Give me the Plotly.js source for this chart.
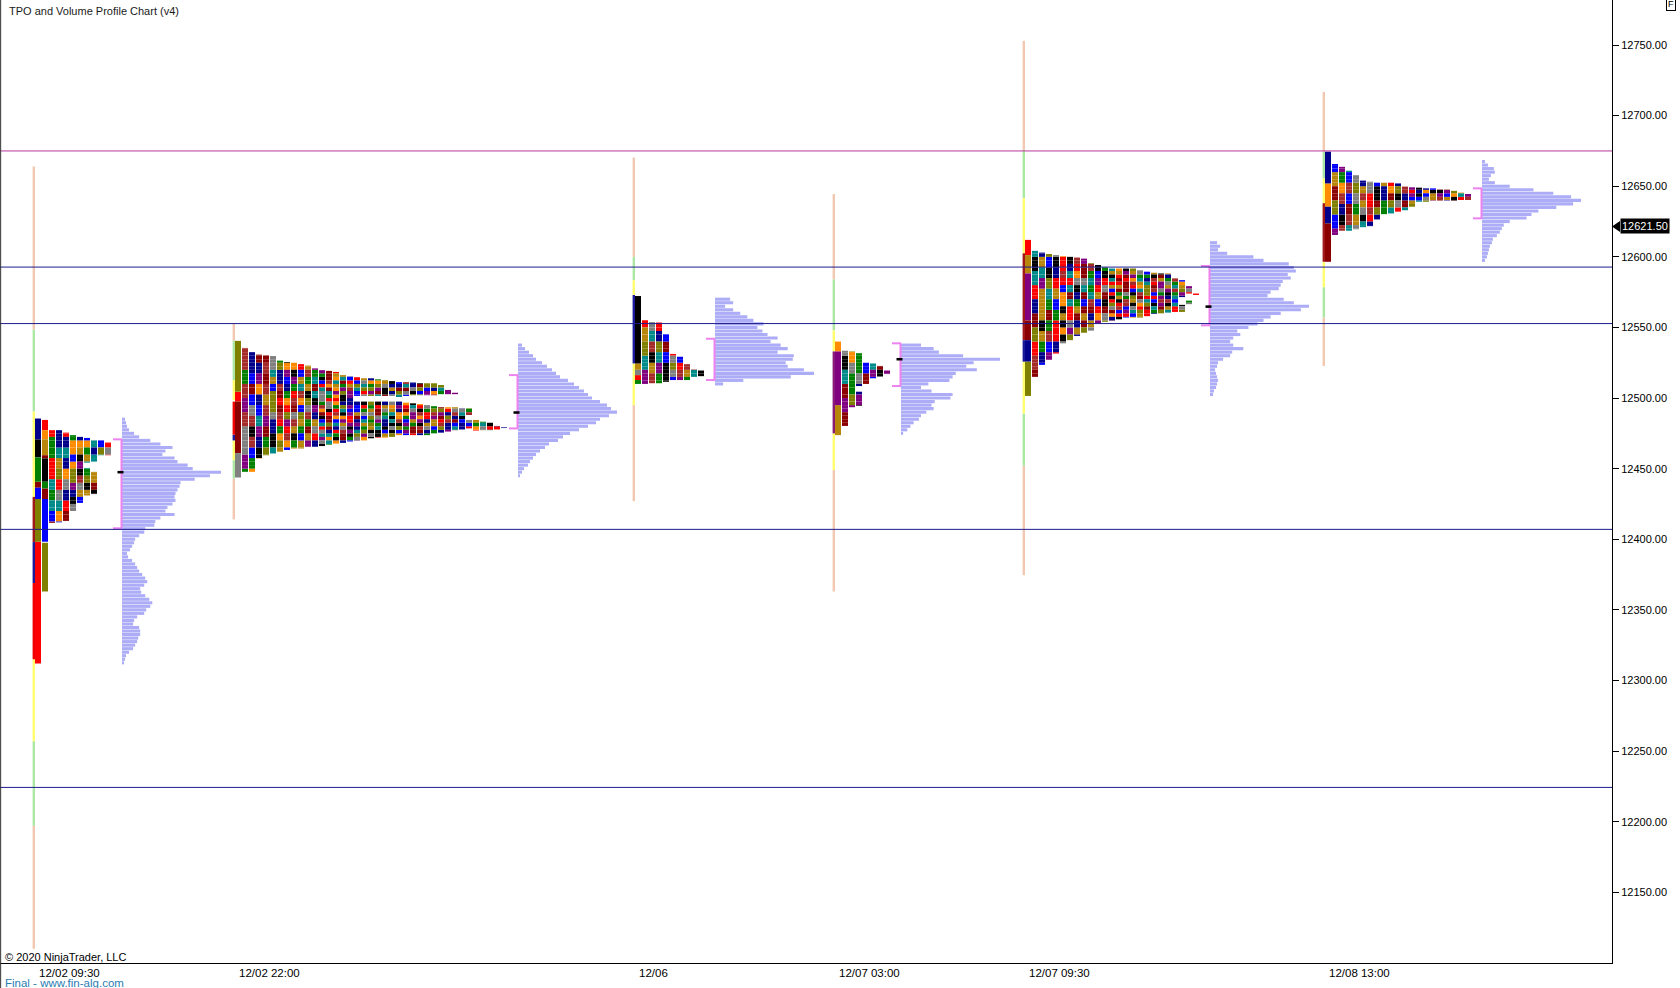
<!DOCTYPE html>
<html><head><meta charset="utf-8">
<script src="https://cdn.plot.ly/plotly-3.0.1.min.js"></script>
<style>html,body{margin:0;padding:0;background:#fff;overflow:hidden}#chart{width:1680px;height:988px}</style>
</head><body><div id="chart"></div>
<script>
// ---------------- DATA ----------------
const sessionLabels = ['12/02 09:30', '12/02 22:00', '12/06', '12/07 03:00', '12/07 09:30', '12/08 13:00'];
const sessionX = [35, 235, 635, 835, 1025, 1325];   // compressed time-axis position of each session's first TPO period

// TPO profile columns: price low / high of each TPO column (column k = k-th TPO count)
const s1Lo = [12312, 12363, 12411.5, 12412, 12413, 12420, 12425.75, 12431, 12432, 12459.5, 12459.5];
const s1Hi = [12485.5, 12484.5, 12477.25, 12477.25, 12475.5, 12473.75, 12472.5, 12471.75, 12470, 12470, 12468.5];
const s1Gaps = [[7, 12450.5, 12454.25], [8, 12447.75, 12455]];

const s2Lo = [12443.75, 12447.75, 12447.75, 12457.25, 12459.5, 12460.75, 12462, 12463.25, 12464.25, 12464.25, 12465.5, 12465.5, 12466, 12467, 12467.75, 12468.25, 12469.25, 12469.75, 12470, 12471.5, 12472, 12472, 12472.5, 12473.75, 12473.75, 12473.75, 12473.75, 12473.75, 12475, 12475.5, 12476.25, 12477.25, 12477.75, 12478.5, 12477, 12477.25, 12477.25, 12477.75, 12478.75];
const s2Hi = [12540.5, 12535.5, 12532.5, 12530.75, 12530.25, 12529.75, 12526.5, 12525.5, 12525, 12524, 12523, 12521, 12519.75, 12519.25, 12518.5, 12516.25, 12515.25, 12514.75, 12514, 12514, 12513.25, 12512.75, 12512, 12511.25, 12511.25, 12511, 12510.5, 12510.5, 12510.5, 12509.25, 12505.75, 12503.75, 12492.75, 12492.75, 12484.5, 12483.25, 12482.5, 12480.25, 12479.25];
const s2Gaps = [[17, 12497.5, 12501.5], [18, 12497.5, 12501.5], [19, 12497.5, 12501.5], [20, 12497.5, 12501.5], [21, 12497.5, 12501.5], [22, 12497.5, 12501.5], [23, 12497.5, 12500.75], [24, 12496.75, 12501.5], [25, 12496.25, 12502], [26, 12495.75, 12502], [27, 12495, 12502], [28, 12494.25, 12502], [29, 12493.5, 12502.75], [30, 12493.5, 12502.75], [31, 12493.5, 12502.75], [33, 12484.5, 12488]];

const s3Lo = [12510, 12510, 12510.5, 12510.5, 12511.5, 12512.75, 12512.75, 12512.75, 12515, 12515.5];
const s3Hi = [12572.25, 12555.25, 12553.75, 12553.5, 12545.25, 12531.25, 12529.25, 12524, 12520.25, 12519.5];
const s3Gaps = [];

const s4Lo = [12473.75, 12480.25, 12493.5, 12494.5, 12510, 12514, 12515.25, 12517];
const s4Hi = [12540, 12533.5, 12533, 12531.75, 12525, 12524.5, 12522.75, 12519.5];
const s4Gaps = [[3, 12504.5, 12508.5]];

const s5Lo = [12501.5, 12515, 12523.5, 12527, 12531.5, 12538.75, 12541, 12544, 12546.25, 12547.75, 12553, 12554, 12554.75, 12555.75, 12557, 12557, 12557, 12558, 12559.5, 12560, 12560.5, 12561, 12561, 12566.5, 12573];
const s5Hi = [12612, 12604.25, 12603, 12602, 12601.25, 12600.5, 12600, 12599.5, 12598.75, 12595.5, 12594.25, 12592.5, 12591.75, 12591.75, 12591.75, 12591.75, 12590.5, 12589.5, 12588.75, 12588.25, 12588.25, 12584.75, 12583.5, 12579.25, 12574];
const s5Gaps = [[22, 12566, 12571.5], [23, 12569, 12574]];

const s6Lo = [12596.5, 12615.5, 12618.5, 12618.5, 12619.5, 12621, 12621.75, 12626.5, 12630.25, 12630.75, 12632, 12633, 12635.5, 12639, 12639, 12639.75, 12639.75, 12639.75, 12639.75, 12640.25, 12640.25];
const s6Hi = [12674.5, 12665.75, 12663.75, 12661, 12658, 12654, 12653.25, 12652.5, 12652.5, 12652.5, 12652, 12649.75, 12649.25, 12649, 12648.5, 12648.5, 12647.75, 12647.75, 12646.75, 12645.5, 12644.5];
const s6Gaps = [];

// Known single-period blocks of the first columns: [column, low, high, colour index]
const s1Blocks = [[0,12470.75,12485.5,7],[0,12458,12470.75,4],[0,12440.75,12458,5],[0,12436.5,12440.75,3],[0,12428.5,12436.5,8],[0,12398.25,12428.5,10],[0,12312,12398.25,0],
                  [1,12477.25,12484.5,0],[1,12470.75,12477.25,1],[1,12459.5,12470.75,2],[1,12457.25,12459.5,3],[1,12440.75,12457.25,4],[1,12436,12440.75,5],[1,12428.5,12436,3],[1,12398.25,12428.5,8],[1,12363,12397.5,10]];
const s2Blocks = [[0,12504.5,12540.5,10],[0,12497.5,12504.5,0],[0,12461,12497.5,3],[0,12443.75,12461,11]];
const s3Blocks = [[0,12524.5,12572.25,4],[0,12520,12524.5,2],[0,12516.25,12520,11],[0,12512.75,12516.25,0],[0,12510,12512.75,5]];
const s4Blocks = [[0,12533,12540,1],[0,12495,12533,9],[0,12473.75,12495,2]];
const s5Blocks = [[0,12601.25,12612,0],[0,12588.25,12601.25,2],[0,12555,12588.25,9],[0,12541,12555,3],[0,12525.75,12541,7],[0,12501.5,12525.75,10]];
const s6Blocks = [[0,12652,12674.5,7],[0,12635.5,12652,1],[0,12623.75,12635.5,7],[0,12596.5,12623.75,3]];

// Volume profiles: volume at each 2.5-point price row, from the top price downwards
const volStep = 2.5;
const s1VolTop = 12485;
const s1Vol = [3,4,5,7,12,17,28,38,50,43,40,52,55,65,70,98,87,72,58,57,55,53,52,53,50,45,43,52,38,33,32,23,22,17,13,12,10,8,5,6,10,13,15,17,20,23,25,22,18,19,23,27,30,28,24,22,15,12,11,17,18,18,16,15,13,11,7,4,3,2];
const s2VolTop = 12537.5;
const s2Vol = [4,7,11,15,18,24,29,34,38,42,50,56,61,66,70,74,82,89,93,99,91,82,78,70,61,52,45,40,31,27,22,18,15,12,10,6,4,2];
const s3VolTop = 12570;
const s3Vol = [15,18,10,18,25,32,38,48,42,47,52,62,55,65,72,62,78,77,70,72,88,98,75,28,8];
const s4VolTop = 12537.5;
const s4Vol = [19,31,36,59,94,69,62,72,52,49,46,26,19,29,49,47,32,29,31,24,19,17,12,9,6,2];
const s5VolTop = 12610;
const s5Vol = [7,10,8,17,43,53,78,83,85,77,80,72,70,68,60,57,73,83,98,90,70,60,53,47,38,27,30,23,20,23,33,22,20,13,8,7,5,6,7,8,7,6,4,3];
const s6VolTop = 12667.5;
const s6Vol = [3,6,12,13,9,7,13,28,52,72,90,100,92,75,57,50,45,28,22,20,18,15,11,10,8,7,6,5,3];

// Value areas and points of control
const vaLow  = [12407.75, 12478.5, 12512.75, 12508.5, 12551.5, 12627.25];
const vaHigh = [12470.75, 12516.25, 12542, 12538.75, 12593.5, 12648.5];
const pocPrice = [12447.5, 12489.75, null, 12527.5, 12564.75, null];

// Session range lines: [low, high, kind]
const rangeSegs = [
  [[12548.5,12664,'P'],[12490.5,12548.5,'G'],[12430,12490.5,'Y'],[12398,12430,'D'],[12369,12398,'N'],[12315,12369,'R'],[12257,12315,'Y'],[12197,12257,'G'],[12110,12197,'P']],
  [[12540.5,12553,'P'],[12512.75,12540.5,'G'],[12498.5,12512.75,'Y'],[12474,12497.5,'R'],[12470,12474,'N'],[12456,12470,'Y'],[12443,12456,'G'],[12414,12443,'P']],
  [[12600,12670.25,'P'],[12583.5,12600,'G'],[12573,12583.5,'Y'],[12524.5,12573,'N'],[12495,12524.5,'Y'],[12427,12495,'P']],
  [[12584,12644.5,'P'],[12548,12584,'G'],[12533,12548,'Y'],[12475,12533,'U'],[12449,12475,'Y'],[12363,12449,'P']],
  [[12675.5,12753,'P'],[12641.5,12675.5,'G'],[12602.5,12641.5,'Y'],[12541,12602.5,'D'],[12525.75,12541,'N'],[12489,12525.75,'Y'],[12452,12489,'G'],[12374.5,12452,'P']],
  [[12674.5,12716.75,'P'],[12655.5,12674.5,'G'],[12638,12655.5,'Y'],[12596.5,12638,'D'],[12578.5,12596.5,'Y'],[12557,12578.5,'G'],[12522.75,12557,'P']]
];

// Horizontal reference levels
const levelPrices = [12675, 12592.75, 12552.75, 12407, 12224.25];
const levelKinds  = ['magenta', 'blue', 'blue', 'blue', 'blue'];
const lastPrice = 12621.50;
const yTicks = [12150, 12200, 12250, 12300, 12350, 12400, 12450, 12500, 12550, 12600, 12650, 12700, 12750];

// ---------------- STYLE ----------------
const FONT = 'Liberation Sans, Arial, sans-serif';
const Y_RANGE = [12099.9, 12781.9];
const X_RANGE = [0, 1612];
const COL_W = 7, CELL_W = 6, ROW = 2.5;
const VOL_MAX_W = 99, VOL_GAP = 10;
const PALETTE = ['#ff0000','#ff8c00','#b8860b','#8b0000','#000000','#008000','#008b8b','#00008b','#0000ff','#800080','#808000','#808080','#a52a2a'];
const SEG_COLORS = {P:'#f3c8b0', G:'#ace8a4', Y:'#ffff6e', D:'#a01818', N:'#1a1a9a', R:'#f00000', U:'#8a1a7a'};
const LEVEL_COLORS = {magenta:'#b8359c', blue:'#1c1c8e'};
const VOL_COLOR = '#adadf7';
const VA_COLOR = '#ee82ee';

const sessions = [
  {lo:s1Lo, hi:s1Hi, gaps:s1Gaps, blocks:s1Blocks, volTop:s1VolTop, vol:s1Vol},
  {lo:s2Lo, hi:s2Hi, gaps:s2Gaps, blocks:s2Blocks, volTop:s2VolTop, vol:s2Vol},
  {lo:s3Lo, hi:s3Hi, gaps:s3Gaps, blocks:s3Blocks, volTop:s3VolTop, vol:s3Vol},
  {lo:s4Lo, hi:s4Hi, gaps:s4Gaps, blocks:s4Blocks, volTop:s4VolTop, vol:s4Vol},
  {lo:s5Lo, hi:s5Hi, gaps:s5Gaps, blocks:s5Blocks, volTop:s5VolTop, vol:s5Vol},
  {lo:s6Lo, hi:s6Hi, gaps:s6Gaps, blocks:s6Blocks, volTop:s6VolTop, vol:s6Vol}
];

function pick(s, c, b) {
  let h = Math.imul(s + 1, 374761393) ^ Math.imul(c + 7, 668265263) ^ Math.imul(b + 13, -2048144777);
  h = Math.imul(h ^ (h >>> 13), 1274126177);
  h ^= h >>> 16;
  return (h >>> 0) % PALETTE.length;
}

const cellBuckets = PALETTE.map(() => ({x:[], y:[], base:[]}));
const segBuckets = {};
const volX = [], volY = [], volBase = [];
const shapes = [], annotations = [];

function addCell(ci, cx, bot, top) {
  cellBuckets[ci].x.push(cx);
  cellBuckets[ci].base.push(bot);
  cellBuckets[ci].y.push(top - bot);
}

sessions.forEach((S, si) => {
  const x0 = sessionX[si];
  const n = S.lo.length;
  for (let c = 0; c < n; c++) {
    const cx = x0 + c * COL_W + CELL_W / 2;
    const known = S.blocks.filter(b => b[0] === c);
    if (known.length) {
      known.forEach(b => addCell(b[3], cx, b[1], b[2]));
      continue;
    }
    let segs = [[S.lo[c], S.hi[c]]];
    S.gaps.filter(g => g[0] === c).forEach(g => {
      const out = [];
      segs.forEach(([a, b]) => {
        if (g[2] <= a || g[1] >= b) { out.push([a, b]); return; }
        if (g[1] > a) out.push([a, g[1]]);
        if (g[2] < b) out.push([g[2], b]);
      });
      segs = out;
    });
    const run = c < 2 ? 4 : c < 5 ? 3 : c < 12 ? 2 : 1;
    segs.forEach(([a, b]) => {
      let top = b;
      while (top > a + 1e-9) {
        const k = Math.ceil(top / ROW - 1e-9) - 1;
        const bot = Math.max(a, k * ROW);
        addCell(pick(si, c, Math.floor(k / run)), cx, bot, top);
        top = bot;
      }
    });
  }
  rangeSegs[si].forEach(([a, b, kind]) => {
    (segBuckets[kind] = segBuckets[kind] || {x:[], y:[], base:[]});
    segBuckets[kind].x.push(x0 - 1.2);
    segBuckets[kind].base.push(a);
    segBuckets[kind].y.push(b - a);
  });
  const vStart = x0 + n * COL_W + VOL_GAP;
  const vmax = Math.max(...S.vol);
  S.vol.forEach((v, i) => {
    volY.push(S.volTop - i * volStep);
    volX.push(v / vmax * VOL_MAX_W);
    volBase.push(vStart);
  });
  shapes.push({type:'line', xref:'x', yref:'y', x0:vStart - 0.5, x1:vStart - 0.5, y0:vaLow[si], y1:vaHigh[si], line:{color:VA_COLOR, width:2}});
  shapes.push({type:'line', xref:'x', yref:'y', x0:vStart - 9, x1:vStart, y0:vaHigh[si], y1:vaHigh[si], line:{color:VA_COLOR, width:2}});
  shapes.push({type:'line', xref:'x', yref:'y', x0:vStart - 9, x1:vStart, y0:vaLow[si], y1:vaLow[si], line:{color:VA_COLOR, width:2}});
  if (pocPrice[si] !== null) {
    shapes.push({type:'rect', xref:'x', yref:'y', x0:vStart - 4.5, x1:vStart + 1.5, y0:pocPrice[si] - 0.9, y1:pocPrice[si] + 0.9, fillcolor:'#000', line:{width:0}});
  }
  annotations.push({xref:'x', yref:'paper', x:x0 + 2, y:-0.0107, xanchor:'left', yanchor:'middle', text:sessionLabels[si], showarrow:false, font:{family:FONT, size:11.5, color:'#000'}});
});

const traces = [];
PALETTE.forEach((col, i) => {
  const b = cellBuckets[i];
  if (!b.x.length) return;
  traces.push({type:'bar', x:b.x, y:b.y, base:b.base, width:CELL_W, marker:{color:col, line:{width:0}}, hoverinfo:'skip'});
});
Object.keys(segBuckets).forEach(kind => {
  const b = segBuckets[kind];
  traces.push({type:'bar', x:b.x, y:b.y, base:b.base, width:2.4, marker:{color:SEG_COLORS[kind], line:{width:0}}, hoverinfo:'skip'});
});
traces.push({type:'bar', orientation:'h', x:volX, y:volY, base:volBase, width:volStep * 0.88, marker:{color:VOL_COLOR, line:{width:0}}, hoverinfo:'skip'});

levelPrices.forEach((p, i) => {
  shapes.push({type:'line', xref:'paper', yref:'y', x0:0, x1:1, y0:p, y1:p, layer:'above', line:{color:LEVEL_COLORS[levelKinds[i]], width:1}});
});
shapes.push({type:'line', xref:'paper', yref:'paper', x0:0.0004, x1:0.0004, y0:-0.03, y1:1, line:{color:'#333', width:1}});
const py = (lastPrice - Y_RANGE[0]) / (Y_RANGE[1] - Y_RANGE[0]);
const pxW = 1 / (X_RANGE[1] - X_RANGE[0]);
const pyH = 1 / 963;
shapes.push({type:'path', xref:'paper', yref:'paper', path:`M 1 ${py} L ${1 + 8 * pxW} ${py + 5.5 * pyH} L ${1 + 8 * pxW} ${py - 5.5 * pyH} Z`, fillcolor:'#000', line:{width:0}});
annotations.push({xref:'paper', yref:'y', x:1, xshift:8, y:lastPrice, xanchor:'left', yanchor:'middle', text:lastPrice.toFixed(2), showarrow:false, bgcolor:'#000', borderpad:1, font:{family:FONT, size:11, color:'#fff'}});

annotations.push({xref:'paper', yref:'paper', x:0.0045, y:1 - 11 * pyH, xanchor:'left', yanchor:'middle', text:'TPO and Volume Profile Chart (v4)', showarrow:false, font:{family:FONT, size:11, color:'#1a1a1a'}});
annotations.push({xref:'paper', yref:'paper', x:0.002, y:6.5 * pyH, xanchor:'left', yanchor:'middle', text:'© 2020 NinjaTrader, LLC', showarrow:false, font:{family:FONT, size:11, color:'#000'}});
annotations.push({xref:'paper', yref:'paper', x:0.002, y:-19.5 * pyH, xanchor:'left', yanchor:'middle', text:'Final - www.fin-alg.com', showarrow:false, font:{family:FONT, size:11.5, color:'#2a7db3'}});
annotations.push({xref:'paper', yref:'paper', x:1671.5 * pxW, y:1 + 3 * pyH, xanchor:'center', yanchor:'top', text:'F', showarrow:false, bgcolor:'#fff', bordercolor:'#000', borderwidth:1, borderpad:1, font:{family:FONT, size:9, color:'#000'}});

const layout = {
  width:1680, height:988,
  margin:{l:0, r:68, t:0, b:25, pad:0},
  paper_bgcolor:'#fff', plot_bgcolor:'#fff',
  showlegend:false, hovermode:false, barmode:'overlay',
  xaxis:{range:X_RANGE, showticklabels:false, ticks:'', showgrid:false, zeroline:false, showline:true, linecolor:'#000', linewidth:1, fixedrange:true},
  yaxis:{range:Y_RANGE, side:'right', tickvals:yTicks, tickformat:'.2f', ticks:'outside', ticklen:6, tickcolor:'#000', showgrid:false, zeroline:false, showline:true, linecolor:'#000', linewidth:1, tickfont:{family:FONT, size:11, color:'#000'}, fixedrange:true},
  shapes:shapes, annotations:annotations
};
Plotly.newPlot('chart', traces, layout, {displayModeBar:false, staticPlot:true});
</script></body></html>
